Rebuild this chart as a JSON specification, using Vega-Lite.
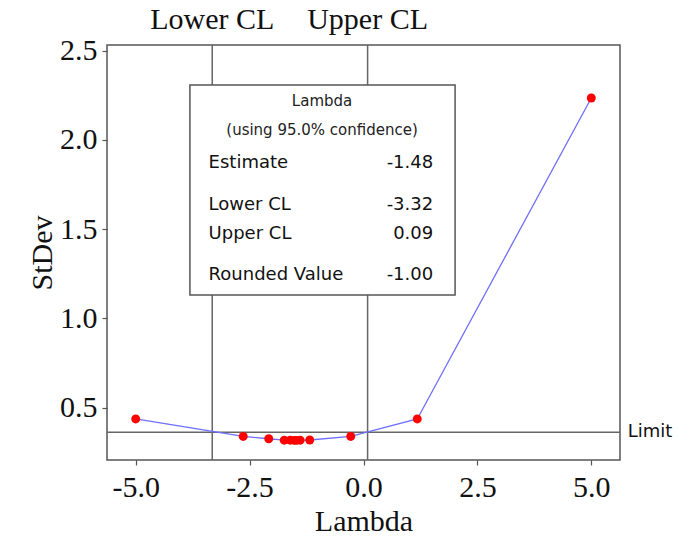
{
  "$schema": "https://vega.github.io/schema/vega-lite/v6.json",
  "width": 513,
  "height": 415,
  "autosize": "none",
  "padding": {"left": 107, "top": 45, "right": 70, "bottom": 84},
  "background": "white",
  "config": {
    "view": {"stroke": "#555555", "strokeWidth": 1.5},
    "axis": {"grid": false, "domain": false, "tickColor": "#555555", "tickWidth": 1.2, "tickSize": 5,
      "labelFont": "Liberation Serif", "labelFontSize": 30, "labelColor": "#111111",
      "titleFont": "Liberation Serif", "titleFontSize": 30, "titleFontWeight": "normal", "titleColor": "#111111"}
  },
  "datasets": {
    "curve": [
      {"lambda": -5.0, "stdev": 0.437},
      {"lambda": -2.64, "stdev": 0.339},
      {"lambda": -2.08, "stdev": 0.326},
      {"lambda": -1.74, "stdev": 0.318},
      {"lambda": -1.61, "stdev": 0.318},
      {"lambda": -1.52, "stdev": 0.317},
      {"lambda": -1.47, "stdev": 0.317},
      {"lambda": -1.39, "stdev": 0.318},
      {"lambda": -1.18, "stdev": 0.319},
      {"lambda": -0.28, "stdev": 0.339},
      {"lambda": 1.18, "stdev": 0.437},
      {"lambda": 5.0, "stdev": 2.235}
    ],
    "cl": [
      {"lambda": -3.32, "label": "Lower CL", "ytext": 2.672},
      {"lambda": 0.09, "label": "Upper CL", "ytext": 2.672}
    ],
    "limit": [{"stdev": 0.362, "label": "Limit", "xtext": 5.8}],
    "box": [{"x1": -3.81, "x2": 2.01, "y1": 2.308, "y2": 1.131}],
    "boxhead": [
      {"text": "Lambda", "x": -0.91, "y": 2.218},
      {"text": "(using 95.0% confidence)", "x": -0.91, "y": 2.055}
    ],
    "boxrows": [
      {"name": "Estimate", "value": "-1.48", "y": 1.87},
      {"name": "Lower CL", "value": "-3.32", "y": 1.635},
      {"name": "Upper CL", "value": "0.09", "y": 1.472},
      {"name": "Rounded Value", "value": "-1.00", "y": 1.242}
    ]
  },
  "layer": [
    {
      "data": {"name": "cl"},
      "mark": {"type": "rule", "color": "#666666", "strokeWidth": 1.5},
      "encoding": {
        "x": {"field": "lambda", "type": "quantitative",
          "scale": {"domain": [-5.63, 5.63], "nice": false, "zero": false},
          "axis": {"values": [-5, -2.5, 0, 2.5, 5], "title": "Lambda", "labelPadding": 7, "titlePadding": 4,
            "labelExpr": "replace(format(datum.value, '.1f'), '\u2212', '-')"}}
      }
    },
    {
      "data": {"name": "limit"},
      "mark": {"type": "rule", "color": "#666666", "strokeWidth": 1.5},
      "encoding": {
        "y": {"field": "stdev", "type": "quantitative",
          "scale": {"domain": [0.207, 2.532], "nice": false, "zero": false},
          "axis": {"values": [0.5, 1, 1.5, 2, 2.5], "title": "StDev", "labelPadding": 5, "titlePadding": 2,
            "labelExpr": "format(datum.value, '.1f')"}}
      }
    },
    {
      "data": {"name": "box"},
      "mark": {"type": "rect", "fill": "white", "stroke": "#555555", "strokeWidth": 1.5},
      "encoding": {
        "x": {"field": "x1", "type": "quantitative"},
        "x2": {"field": "x2"},
        "y": {"field": "y1", "type": "quantitative"},
        "y2": {"field": "y2"}
      }
    },
    {
      "data": {"name": "boxhead"},
      "mark": {"type": "text", "font": "DejaVu Sans", "fontSize": 15, "align": "center", "baseline": "middle", "color": "#222222"},
      "encoding": {
        "x": {"field": "x", "type": "quantitative"},
        "y": {"field": "y", "type": "quantitative"},
        "text": {"field": "text"}
      }
    },
    {
      "data": {"name": "boxrows"},
      "mark": {"type": "text", "font": "DejaVu Sans", "fontSize": 18, "align": "left", "baseline": "middle", "color": "#111111"},
      "encoding": {
        "x": {"datum": -3.4, "type": "quantitative"},
        "y": {"field": "y", "type": "quantitative"},
        "text": {"field": "name"}
      }
    },
    {
      "data": {"name": "boxrows"},
      "mark": {"type": "text", "font": "DejaVu Sans", "fontSize": 18, "align": "right", "baseline": "middle", "color": "#111111"},
      "encoding": {
        "x": {"datum": 1.53, "type": "quantitative"},
        "y": {"field": "y", "type": "quantitative"},
        "text": {"field": "value"}
      }
    },
    {
      "data": {"name": "curve"},
      "mark": {"type": "line", "color": "#6f6fff", "strokeWidth": 1.3},
      "encoding": {
        "x": {"field": "lambda", "type": "quantitative"},
        "y": {"field": "stdev", "type": "quantitative"}
      }
    },
    {
      "data": {"name": "curve"},
      "mark": {"type": "circle", "color": "#ff0000", "opacity": 1, "size": 80},
      "encoding": {
        "x": {"field": "lambda", "type": "quantitative"},
        "y": {"field": "stdev", "type": "quantitative"}
      }
    },
    {
      "data": {"name": "cl"},
      "mark": {"type": "text", "font": "Liberation Serif", "fontSize": 30, "align": "center", "baseline": "middle", "color": "#111111", "clip": false},
      "encoding": {
        "x": {"field": "lambda", "type": "quantitative"},
        "y": {"field": "ytext", "type": "quantitative"},
        "text": {"field": "label"}
      }
    },
    {
      "data": {"name": "limit"},
      "mark": {"type": "text", "font": "DejaVu Sans", "fontSize": 18, "align": "left", "baseline": "middle", "color": "#111111", "clip": false},
      "encoding": {
        "x": {"field": "xtext", "type": "quantitative"},
        "y": {"field": "stdev", "type": "quantitative"},
        "text": {"field": "label"}
      }
    }
  ]
}
